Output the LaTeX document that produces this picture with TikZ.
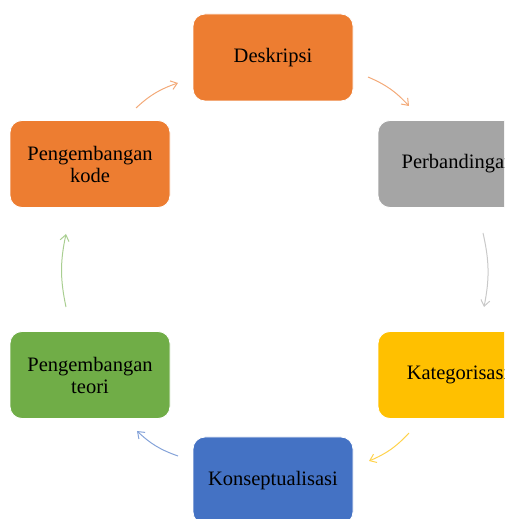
\documentclass[tikz,border=0pt]{standalone}
\usepackage{fontspec}
\setmainfont{Liberation Serif}
\usetikzlibrary{arrows.meta}
\definecolor{cOrange}{HTML}{ED7D31}
\definecolor{cGrey}{HTML}{A5A5A5}
\definecolor{cGold}{HTML}{FFC000}
\definecolor{cBlue}{HTML}{4472C4}
\definecolor{cGreen}{HTML}{70AD47}
\tikzset{
  stagebox/.style={draw=white, line width=0.8pt, rounded corners=12pt, minimum width=160pt, minimum height=87pt, inner sep=0pt, align=center, font=\fontsize{20.5}{22}\selectfont, text=black},
  cyclearrow/.style={line width=1pt, -{Straight Barb[length=6pt,width=9pt]}, bend left=12}
}
\begin{document}
\begin{tikzpicture}[x=1pt,y=1pt]
\useasboundingbox (0,0) rectangle (504,519);
\clip (0,0) rectangle (504,519);
\node[stagebox, fill=cOrange] (desk) at (273,461.5) {Deskripsi};
\node[stagebox, fill=cGrey] (perb) at (458,355) {Perbandingan};
\node[stagebox, fill=cGold] (kate) at (458,144) {Kategorisasi};
\node[stagebox, fill=cBlue] (kons) at (273,38.5) {Konseptualisasi};
\node[stagebox, fill=cGreen] (teori) at (90,144) {Pengembangan\\teori};
\node[stagebox, fill=cOrange] (kode) at (90,355) {Pengembangan\\kode};
\coordinate (a1s) at (136,411); \coordinate (a1e) at (178,436);
\coordinate (a2s) at (368,442); \coordinate (a2e) at (409,413);
\coordinate (a3s) at (483,286); \coordinate (a3e) at (484,212);
\coordinate (a4s) at (409,86);  \coordinate (a4e) at (369,58);
\coordinate (a5s) at (178,63);  \coordinate (a5e) at (137,88);
\coordinate (a6s) at (66,212);  \coordinate (a6e) at (66,285);
\draw[cyclearrow, draw=cOrange!65] (a1s) to (a1e);
\draw[cyclearrow, draw=cOrange!65] (a2s) to (a2e);
\draw[cyclearrow, draw=cGrey!60] (a3s) to (a3e);
\draw[cyclearrow, draw=cGold!70] (a4s) to (a4e);
\draw[cyclearrow, draw=cBlue!65] (a5s) to (a5e);
\draw[cyclearrow, draw=cGreen!60] (a6s) to (a6e);
\end{tikzpicture}
\end{document}
